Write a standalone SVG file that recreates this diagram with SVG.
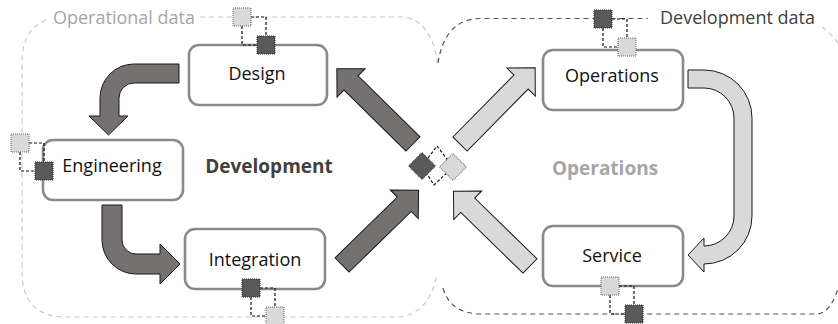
<svg xmlns="http://www.w3.org/2000/svg" width="838" height="324" viewBox="0 0 838 324">
  <style>
    .box{fill:#fff;stroke:#8a8a8a;stroke-width:2.6}
    .label{font-family:"Open Sans","Noto Sans","DejaVu Sans",sans-serif;font-size:18px;fill:#111;text-anchor:middle}
    .zone-label{font-family:"Open Sans","Noto Sans","DejaVu Sans",sans-serif;font-size:18px}
    .phase{font-family:"Open Sans","Noto Sans","DejaVu Sans",sans-serif;font-size:19px;font-weight:bold;text-anchor:middle}
    .dark{fill:#767171;stroke:#1a1a1a;stroke-width:1}
    .light{fill:#d9d9d9;stroke:#1a1a1a;stroke-width:1}
    .tok-d{fill:#595959;stroke:#2a2a2a;stroke-width:1;stroke-dasharray:1 1}
    .tok-l{fill:#d9d9d9;stroke:#666;stroke-width:1;stroke-dasharray:1 1}
    .link{fill:none;stroke:#111;stroke-width:1.2;stroke-dasharray:3 2}
    .zone-op{fill:none;stroke:#c8c8c8;stroke-width:1.2;stroke-dasharray:5 4}
    .zone-dev{fill:none;stroke:#555;stroke-width:1.2;stroke-dasharray:5 4}
  </style>
  <defs>
    <!-- data token pair: light token first, dark token offset down-right -->
    <g id="pair-ld">
      <path class="link" d="M18,9H33V28M9,18V37H24"/>
      <rect class="tok-l" x="0" y="0" width="18" height="18"/>
      <rect class="tok-d" x="24" y="28" width="18" height="18"/>
    </g>
    <!-- dark token first, light token offset down-right -->
    <g id="pair-dl">
      <path class="link" d="M18,9H33V28M9,18V37H24"/>
      <rect class="tok-d" x="0" y="0" width="18" height="18"/>
      <rect class="tok-l" x="24" y="28" width="18" height="18"/>
    </g>
    <!-- straight block arrow pointing along +x -->
    <path id="block-arrow" d="M0,-10H87V-20L107,0L87,20V10H0Z"/>
  </defs>

  <!-- data zones -->
  <g id="zones">
    <path class="zone-op" d="M200,17H400Q430,17 438,63"/>
    <path class="zone-op" d="M46,20Q22,30 22,62V272Q22,317 67,317H395Q428,317 437,275"/>
    <path class="zone-dev" d="M438,63Q445,19 480,18.5H648"/>
    <path class="zone-dev" d="M443,288Q450,313 480,314H818Q832,312 840,282"/>
    <path class="zone-op" d="M822,27Q832,34 840,46"/>
    <text class="zone-label" x="53" y="24" fill="#a6a6a6">Operational data</text>
    <text class="zone-label" x="660" y="24" fill="#404040">Development data</text>
  </g>

  <!-- flow arrows -->
  <g id="connectors">
    <path class="dark" d="M179,64H134A34,34 0 0 0 100,98V116H89L108.5,135L128,116H119V98A15,15 0 0 1 134,83H179Z"/>
    <path class="dark" d="M102,205V240A34,34 0 0 0 136,274H160V284L180,264L160,244V254H136A14,14 0 0 1 122,240V205Z"/>
    <use href="#block-arrow" class="dark" transform="translate(342,265) rotate(-44.3)"/>
    <use href="#block-arrow" class="dark" transform="translate(413,144) rotate(-135.4)"/>
    <use href="#block-arrow" class="light" transform="translate(460,144) rotate(-45.4)"/>
    <use href="#block-arrow" class="light" transform="translate(530,266) rotate(-135.7)"/>
    <path class="light" d="M688,70H704A48,48 0 0 1 752,118V216A48,48 0 0 1 704,264V272L688,255L704,238V246A30,30 0 0 0 734,216V118A30,30 0 0 0 704,88H688Z"/>
  </g>

  <!-- exchange point between the two cycles -->
  <g id="exchange">
    <path class="link" d="M422,166L437,146L453,167L434,185Z"/>
    <rect class="tok-d" x="412.5" y="156.5" width="19" height="19" transform="rotate(45 422 166)"/>
    <rect class="tok-l" x="443.5" y="157.5" width="19" height="19" transform="rotate(45 453 167)"/>
  </g>

  <g id="phase-labels">
    <text class="phase" x="269" y="173" fill="#404040">Development</text>
    <text class="phase" x="605" y="175" fill="#a6a6a6">Operations</text>
  </g>

  <g id="node-design">
    <rect class="box" x="189" y="45" width="138" height="60" rx="10"/>
    <text class="label" x="257" y="80">Design</text>
    <use href="#pair-ld" transform="translate(233,8)"/>
  </g>
  <g id="node-engineering">
    <rect class="box" x="43" y="140" width="140" height="60" rx="10"/>
    <text class="label" x="112" y="172">Engineering</text>
    <use href="#pair-ld" transform="translate(11,134)"/>
  </g>
  <g id="node-integration">
    <rect class="box" x="185" y="229" width="140" height="60" rx="10"/>
    <text class="label" x="255" y="266">Integration</text>
    <use href="#pair-dl" transform="translate(242,279)"/>
  </g>
  <g id="node-operations">
    <rect class="box" x="543" y="50" width="140" height="60" rx="10"/>
    <text class="label" x="612" y="82">Operations</text>
    <use href="#pair-dl" transform="translate(594,10)"/>
  </g>
  <g id="node-service">
    <rect class="box" x="543" y="226" width="140" height="60" rx="10"/>
    <text class="label" x="612" y="262">Service</text>
    <use href="#pair-ld" transform="translate(601,277)"/>
  </g>
</svg>
